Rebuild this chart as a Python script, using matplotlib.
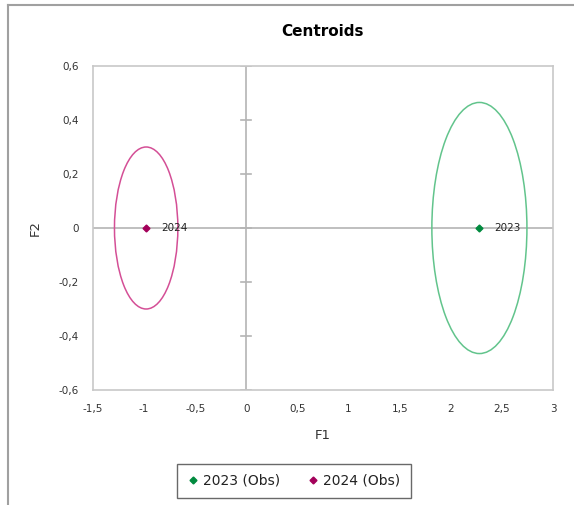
import numpy as np
import matplotlib
matplotlib.use('Agg')
import matplotlib.pyplot as plt
from matplotlib.patches import Ellipse
from matplotlib.lines import Line2D

plt.rcParams['font.family'] = ['DejaVu Sans']

# centroids and their confidence ellipses (F1, F2)
labels = ['2023', '2024']
legend_names = ['2023 (Obs)', '2024 (Obs)']
f1 = [2.28, -0.98]
f2 = [0.0, 0.0]
ell_w = [0.93, 0.62]     # full width along F1
ell_h = [0.93, 0.60]     # full height along F2
point_colors = ['#008a3e', '#a3005a']
ell_colors = ['#62c48c', '#d44f96']

xticks = [-1.5, -1, -0.5, 0, 0.5, 1, 1.5, 2, 2.5, 3]
yticks = [-0.6, -0.4, -0.2, 0, 0.2, 0.4, 0.6]

def fmt(v):
    s = ('%g' % v).replace('.', ',')
    return s

fig = plt.figure(figsize=(5.74, 5.05), dpi=100)
ax = fig.add_axes([93/574, 1-390/505, 460/574, 324/505])

frame = '#c8c8c8'
for sp in ax.spines.values():
    sp.set_color(frame)
    sp.set_linewidth(1.2)

ax.set_xlim(-1.5, 3)
ax.set_ylim(-0.6, 0.6)
ax.set_xticks(xticks)
ax.set_yticks(yticks)
ax.set_xticklabels([fmt(v) for v in xticks])
ax.set_yticklabels([fmt(v) for v in yticks])
ax.tick_params(length=0, labelsize=7.5, labelcolor='#333333', pad=10)

# axes through the origin
ax.axhline(0, color='#b4b4b4', lw=1.2, zorder=1)
ax.axvline(0, color='#b4b4b4', lw=1.2, zorder=1)
for y in yticks:
    ax.plot([-0.05, 0.05], [y, y], color='#b4b4b4', lw=1.2, zorder=1)

for i in range(len(labels)):
    ax.add_patch(Ellipse((f1[i], f2[i]), ell_w[i], ell_h[i], fill=False,
                         edgecolor=ell_colors[i], lw=1.1, zorder=2))
    ax.plot(f1[i], f2[i], marker='D', ms=3.5, color=point_colors[i],
            ls='none', zorder=3)
    ax.text(f1[i] + 0.15, f2[i], labels[i], fontsize=7.5, color='#222222',
            va='center', ha='left', zorder=4)

ax.set_xlabel('F1', fontsize=9.5, color='#333333', labelpad=11)
ax.set_ylabel('F2', fontsize=9.5, color='#333333', labelpad=12)
fig.text(323/574, 1-31/505, 'Centroids', ha='center', va='center',
         fontsize=11, fontweight='bold')

handles = [Line2D([], [], marker='D', ms=3.5, ls='none', color=c)
           for c in point_colors]
leg = fig.legend(handles, legend_names, loc='center',
                 bbox_to_anchor=(294/574, 1-481/505), ncol=2, fontsize=10,
                 frameon=True, fancybox=False, handletextpad=0.3,
                 columnspacing=2.0, handlelength=0.8, borderpad=0.75,
                 borderaxespad=0)
leg.get_frame().set_edgecolor('#444444')
leg.get_frame().set_linewidth(1.0)
for t in leg.get_texts():
    t.set_color('#222222')

# outer chart border (top and left edges)
fig.add_artist(Line2D([8/574, 1], [1-5/505, 1-5/505], color='#a0a0a0',
                      lw=1.5, transform=fig.transFigure))
fig.add_artist(Line2D([8/574, 8/574], [0, 1-5/505], color='#a0a0a0',
                      lw=1.5, transform=fig.transFigure))

fig.savefig('out.png', dpi=100)
